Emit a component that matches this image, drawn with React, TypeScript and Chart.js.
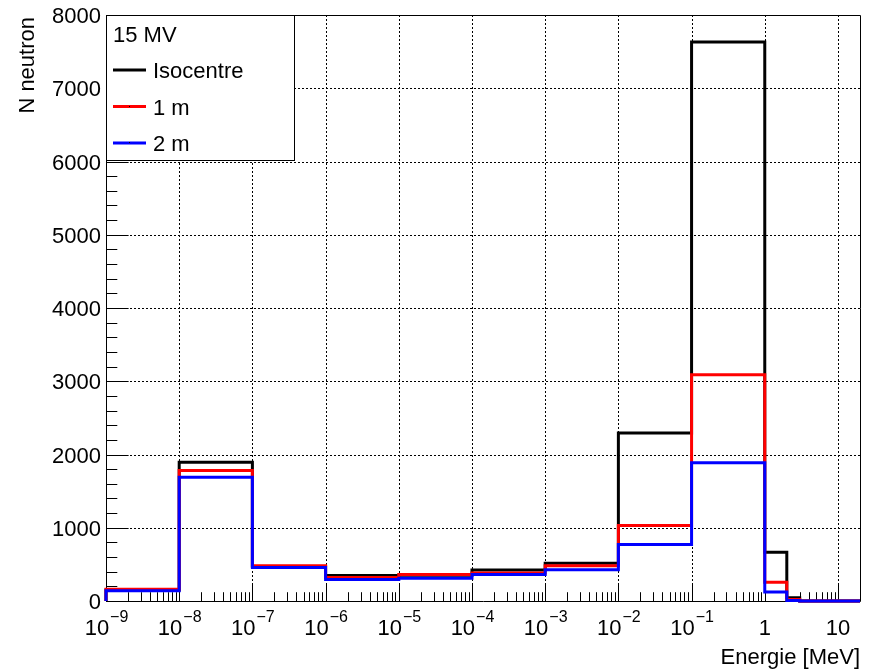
import React, { useEffect, useRef } from "react";
import { Chart, registerables } from "chart.js";

Chart.register(...registerables);

// Neutron energy spectrum, 15 MV beam: counts per energy bin (MeV)
const binEdges = [1e-9, 1e-8, 1e-7, 1e-6, 1e-5, 1e-4, 1e-3, 1e-2, 1e-1, 1, 2, 3, 20];
const isocentre = [150, 1895, 470, 348, 352, 422, 515, 2292, 7630, 665, 45, 0];
const oneMetre = [160, 1780, 482, 320, 362, 382, 482, 1032, 3088, 255, 22, 0];
const twoMetre = [140, 1690, 458, 292, 310, 362, 425, 772, 1886, 122, 8, 0];

const decadeExponents = [-9, -8, -7, -6, -5, -4, -3, -2, -1, 0, 1];
const yMajorTicks = [0, 1000, 2000, 3000, 4000, 5000, 6000, 7000, 8000];
const yMinorStep = 200;

const legendHeader = "15 MV";
const seriesNames = ["Isocentre", "1 m", "2 m"];
const seriesColors = ["#000000", "#ff0000", "#0000ff"];

const xTitle = "Energie [MeV]";
const yTitle = "N neutron";

const FONT = '"Liberation Sans", Arial, Helvetica, sans-serif';

// Outline of a histogram as stepped points: rise from zero at the first edge,
// then each bin's value held until the next edge.
function toSteps(values: number[]) {
  const pts: { x: number; y: number }[] = [{ x: binEdges[0], y: 0 }];
  values.forEach((v, i) => pts.push({ x: binEdges[i], y: v }));
  pts.push({ x: binEdges[binEdges.length - 1], y: values[values.length - 1] });
  return pts;
}

const px = (v: number) => Math.round(v) + 0.5;

const framePlugin = {
  id: "rootFrame",
  beforeDatasetsDraw(chart: any) {
    const { ctx, chartArea: a, scales } = chart;
    const xs = scales.x;
    const ys = scales.y;
    ctx.save();
    ctx.fillStyle = "#ffffff";
    ctx.fillRect(0, 0, chart.width, chart.height);

    // dotted grid
    ctx.strokeStyle = "#000000";
    ctx.lineWidth = 1;
    ctx.setLineDash([2, 2]);
    ctx.beginPath();
    decadeExponents.forEach((e) => {
      const v = Math.pow(10, e);
      if (v <= binEdges[0]) return;
      const x = px(xs.getPixelForValue(v));
      ctx.moveTo(x, a.bottom);
      ctx.lineTo(x, a.top);
    });
    yMajorTicks.forEach((t) => {
      if (t === 0) return;
      const y = px(ys.getPixelForValue(t));
      ctx.moveTo(a.left, y);
      ctx.lineTo(a.right, y);
    });
    ctx.stroke();
    ctx.setLineDash([]);

    // frame
    ctx.beginPath();
    ctx.moveTo(px(a.left), px(a.top));
    ctx.lineTo(px(a.right), px(a.top));
    ctx.lineTo(px(a.right), px(a.bottom));
    ctx.lineTo(px(a.left), px(a.bottom));
    ctx.closePath();
    ctx.stroke();

    // y ticks
    const yMajLen = 0.03 * (a.right - a.left);
    ctx.beginPath();
    for (let t = 0; t <= 8000; t += yMinorStep) {
      const y = px(ys.getPixelForValue(t));
      const len = t % 1000 === 0 ? yMajLen : yMajLen / 2;
      ctx.moveTo(a.left, y);
      ctx.lineTo(a.left + len, y);
    }
    // x ticks
    const xMajLen = 0.03 * (a.bottom - a.top);
    decadeExponents.forEach((e) => {
      const base = Math.pow(10, e);
      for (let m = 1; m <= 9; m++) {
        const v = base * m;
        if (v < binEdges[0] || v > binEdges[binEdges.length - 1]) continue;
        const x = px(xs.getPixelForValue(v));
        const len = m === 1 ? xMajLen : xMajLen / 2;
        ctx.moveTo(x, a.bottom);
        ctx.lineTo(x, a.bottom - len);
      }
    });
    ctx.stroke();
    ctx.restore();
  },
  afterDatasetsDraw(chart: any) {
    const { ctx, chartArea: a, scales } = chart;
    const xs = scales.x;
    const ys = scales.y;
    ctx.save();
    ctx.fillStyle = "#000000";

    // y tick labels
    ctx.font = `22px ${FONT}`;
    ctx.textAlign = "right";
    ctx.textBaseline = "alphabetic";
    yMajorTicks.forEach((t) => {
      const y = ys.getPixelForValue(t);
      ctx.fillText(String(t), a.left - 5, y + 8);
    });

    // x tick labels (powers of ten)
    decadeExponents.forEach((e) => {
      const x = xs.getPixelForValue(Math.pow(10, e));
      const baseY = 635;
      if (e === 0 || e === 1) {
        ctx.font = `22px ${FONT}`;
        ctx.textAlign = "center";
        ctx.fillText(e === 0 ? "1" : "10", x, baseY);
        return;
      }
      const sup = "\u2212" + Math.abs(e);
      ctx.font = `22px ${FONT}`;
      const w1 = ctx.measureText("10").width;
      ctx.font = `16px ${FONT}`;
      const w2 = ctx.measureText(sup).width;
      const start = x - (w1 + w2) / 2;
      ctx.textAlign = "left";
      ctx.font = `22px ${FONT}`;
      ctx.fillText("10", start, baseY);
      ctx.font = `16px ${FONT}`;
      ctx.fillText(sup, start + w1 + 1, baseY - 13);
    });

    // axis titles
    ctx.font = `22px ${FONT}`;
    ctx.textAlign = "right";
    ctx.fillText(xTitle, a.right, 664);
    ctx.save();
    ctx.translate(34, a.top + 2);
    ctx.rotate(-Math.PI / 2);
    ctx.textAlign = "right";
    ctx.fillText(yTitle, 0, 0);
    ctx.restore();

    // legend
    const lx = a.left;
    const ly = a.top;
    ctx.fillStyle = "#ffffff";
    ctx.fillRect(lx, ly, 188, 145);
    ctx.strokeStyle = "#000000";
    ctx.lineWidth = 1;
    ctx.strokeRect(px(lx), px(ly), 188, 145);
    ctx.fillStyle = "#000000";
    ctx.textAlign = "left";
    ctx.font = `22px ${FONT}`;
    ctx.fillText(legendHeader, lx + 7, 41.5);
    seriesNames.forEach((name, i) => {
      const base = 78 + 36.5 * i;
      const yLine = base - 8;
      ctx.strokeStyle = seriesColors[i];
      ctx.lineWidth = 3;
      ctx.beginPath();
      ctx.moveTo(lx + 7, yLine);
      ctx.lineTo(lx + 40, yLine);
      ctx.stroke();
      if (i > 0) {
        ctx.fillStyle = "#000000";
        ctx.fillRect(lx + 23, Math.round(yLine) - 1, 1, 1);
      }
      ctx.fillStyle = "#000000";
      ctx.fillText(name, lx + 47, base);
    });
    ctx.restore();
  },
};

export default function App() {
  const canvasRef = useRef<HTMLCanvasElement | null>(null);

  useEffect(() => {
    document.body.style.margin = "0";
    const canvas = canvasRef.current;
    if (!canvas) return;
    const series = [isocentre, oneMetre, twoMetre];
    const chart = new Chart(canvas, {
      type: "line",
      data: {
        datasets: series.map((vals, i) => ({
          label: seriesNames[i],
          data: toSteps(vals),
          borderColor: seriesColors[i],
          backgroundColor: seriesColors[i],
          borderWidth: 3,
          pointRadius: 0,
          stepped: true,
          fill: false,
          tension: 0,
          clip: false,
          order: 2 - i,
          borderJoinStyle: "miter",
          borderCapStyle: "butt",
        })) as any,
      },
      options: {
        animation: false,
        responsive: false,
        devicePixelRatio: 1,
        layout: { padding: { left: 106, right: 14, top: 15, bottom: 70 } },
        plugins: { legend: { display: false }, tooltip: { enabled: false } },
        events: [],
        scales: {
          x: { type: "logarithmic", min: binEdges[0], max: binEdges[binEdges.length - 1], display: false },
          y: { type: "linear", min: 0, max: 8000, display: false },
        },
      },
      plugins: [framePlugin],
    });
    return () => chart.destroy();
  }, []);

  return (
    <div style={{ position: "absolute", left: 0, top: 0, width: 874, height: 671 }}>
      <canvas ref={canvasRef} width={874} height={671} style={{ width: 874, height: 671 }} />
    </div>
  );
}
